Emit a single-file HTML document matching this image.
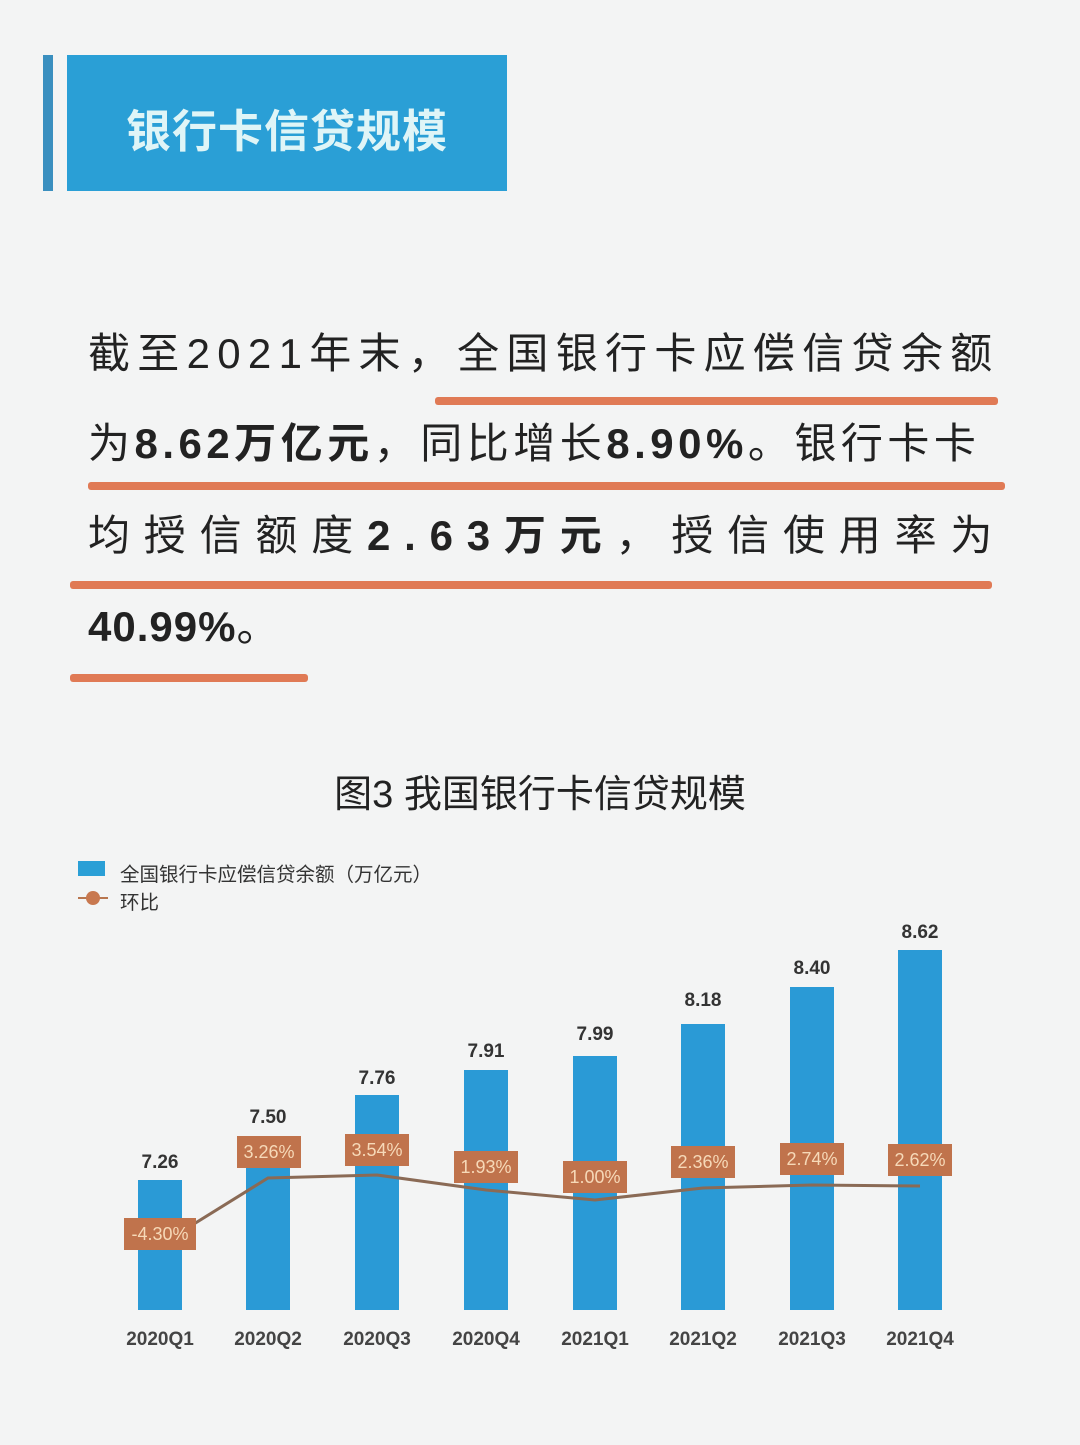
<!DOCTYPE html>
<html><head><meta charset="utf-8"><style>
body{margin:0;width:1080px;height:1445px;background:#f3f4f4;position:relative;overflow:hidden;font-family:"Liberation Sans","Noto Sans CJK SC",sans-serif;}
.a{position:absolute;white-space:nowrap;}
.ul{position:absolute;height:8px;background:#e07a55;border-radius:3px;}
p.t{position:absolute;left:88px;margin:0;font-size:42px;color:#222;letter-spacing:1px;line-height:1;white-space:nowrap;}
</style></head><body>
<div class="a" style="left:43px;top:55px;width:10px;height:136px;background:#3a8fbf"></div>
<div class="a" style="left:67px;top:55px;width:440px;height:136px;background:#2a9fd6"></div>
<div class="a" style="left:67px;top:95px;width:440px;text-align:center;font-size:45px;font-weight:bold;color:#dff5f7;letter-spacing:1px">银行卡信贷规模</div>

<p class="t" style="top:333px;letter-spacing:7.3px">截至2021年末，全国银行卡应偿信贷余额</p>
<div class="ul" style="left:435px;top:397px;width:563px"></div>
<p class="t" style="top:423px;letter-spacing:4.5px">为<b>8.62万亿元</b>，同比增长<b>8.90%</b>。银行卡卡</p>
<div class="ul" style="left:88px;top:482px;width:917px"></div>
<p class="t" style="top:515px;letter-spacing:13.8px">均授信额度<b>2.63万元</b>，授信使用率为</p>
<div class="ul" style="left:70px;top:581px;width:922px"></div>
<p class="t" style="top:606px"><b>40.99%</b>。</p>
<div class="ul" style="left:70px;top:674px;width:238px"></div>

<div class="a" style="left:0;width:1080px;top:763px;text-align:center;font-size:38px;color:#222">图3 我国银行卡信贷规模</div>
<div class="a" style="left:78px;top:861px;width:27px;height:15px;background:#2a9fd6"></div>
<div class="a" style="left:120px;top:858px;font-size:19.5px;color:#333">全国银行卡应偿信贷余额（万亿元）</div>
<div class="a" style="left:78px;top:897px;width:30px;height:2px;background:#b8764f"></div>
<div class="a" style="left:86px;top:891px;width:14px;height:14px;border-radius:50%;background:#c8784f"></div>
<div class="a" style="left:120px;top:886px;font-size:19.5px;color:#333">环比</div>

<svg class="a" style="left:0;top:0" width="1080" height="1445">
<g fill="#2a9ad6">
<rect x="138" y="1180" width="44" height="130"/>
<rect x="246" y="1142" width="44" height="168"/>
<rect x="355" y="1095" width="44" height="215"/>
<rect x="464" y="1070" width="44" height="240"/>
<rect x="573" y="1056" width="44" height="254"/>
<rect x="681" y="1024" width="44" height="286"/>
<rect x="790" y="987" width="44" height="323"/>
<rect x="898" y="950" width="44" height="360"/>
</g>
<polyline fill="none" stroke="#8a6a55" stroke-width="3" points="160,1245 268,1178 377,1175 486,1190 595,1200 703,1188 812,1185 920,1186"/>
<g font-size="19" font-weight="bold" fill="#333" text-anchor="middle" font-family="Liberation Sans,sans-serif">
<text x="160" y="1168">7.26</text><text x="268" y="1123">7.50</text><text x="377" y="1084">7.76</text><text x="486" y="1057">7.91</text>
<text x="595" y="1040">7.99</text><text x="703" y="1006">8.18</text><text x="812" y="974">8.40</text><text x="920" y="938">8.62</text>
</g>
<g fill="#c0734c">
<rect x="124" y="1218" width="72" height="32"/><rect x="237" y="1136" width="64" height="32"/>
<rect x="345" y="1134" width="64" height="32"/><rect x="454" y="1151" width="64" height="32"/>
<rect x="563" y="1161" width="64" height="32"/><rect x="671" y="1146" width="64" height="32"/>
<rect x="780" y="1143" width="64" height="32"/><rect x="888" y="1144" width="64" height="32"/>
</g>
<g font-size="18" fill="#f6d9b8" text-anchor="middle" font-family="Liberation Sans,sans-serif">
<text x="160" y="1240">-4.30%</text><text x="269" y="1158">3.26%</text><text x="377" y="1156">3.54%</text><text x="486" y="1173">1.93%</text>
<text x="595" y="1183">1.00%</text><text x="703" y="1168">2.36%</text><text x="812" y="1165">2.74%</text><text x="920" y="1166">2.62%</text>
</g>
<g font-size="19" font-weight="bold" fill="#444" text-anchor="middle" font-family="Liberation Sans,sans-serif">
<text x="160" y="1345">2020Q1</text><text x="268" y="1345">2020Q2</text><text x="377" y="1345">2020Q3</text><text x="486" y="1345">2020Q4</text>
<text x="595" y="1345">2021Q1</text><text x="703" y="1345">2021Q2</text><text x="812" y="1345">2021Q3</text><text x="920" y="1345">2021Q4</text>
</g>
</svg>
</body></html>
